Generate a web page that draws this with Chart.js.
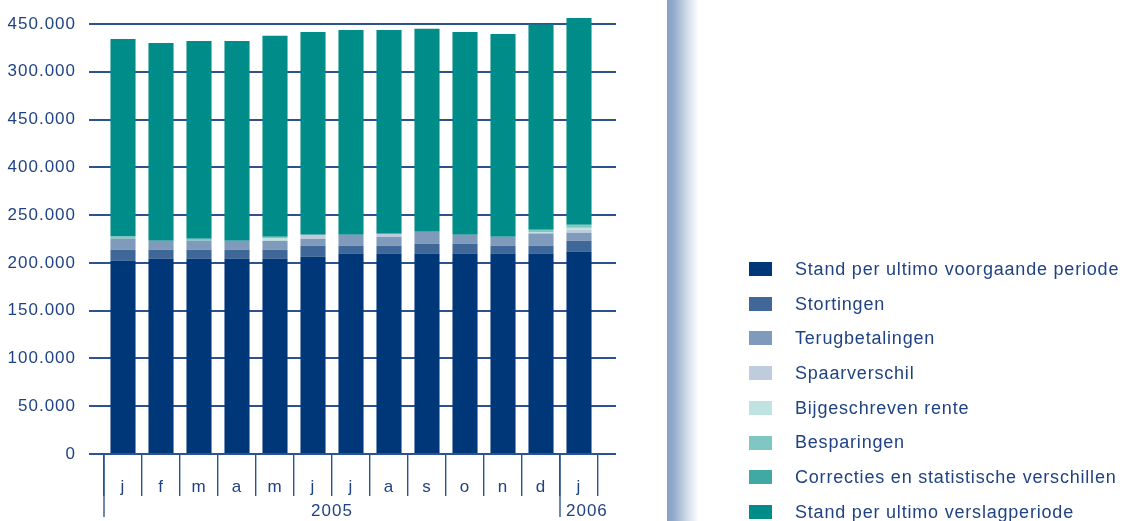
<!DOCTYPE html>
<html>
<head>
<meta charset="utf-8">
<title>Stand spaartegoeden</title>
<script src="https://cdn.jsdelivr.net/npm/chart.js@4.4.1/dist/chart.umd.min.js"></script>
<style>
  html, body { margin: 0; padding: 0; background: #fff; }
  #wrap { position: relative; width: 1125px; height: 521px; overflow: hidden; }
  #band {
    position: absolute; left: 667px; top: 0; width: 32px; height: 521px;
    background: linear-gradient(to right, #87a1c5 0%, #94accc 22%, #d4deeb 65%, #ffffff 100%);
  }
  #chart { position: absolute; left: 0; top: 0; }
</style>
</head>
<body>
<div id="wrap">
  <div id="band"></div>
  <canvas id="chart" width="1125" height="521"></canvas>
</div>
<script>
// Months and years along the bottom
var months = ['j', 'f', 'm', 'a', 'm', 'j', 'j', 'a', 's', 'o', 'n', 'd', 'j'];
var years = ['2005', '2006'];
var yearStart = [0, 12]; // first month index of each year

// Printed labels of the value axis, bottom to top
var yTickLabels = ['0', '50.000', '100.000', '150.000', '200.000', '250.000', '400.000', '450.000', '300.000', '450.000'];

// Stacked series, bottom to top
var standVoorgaand = [202200, 204300, 204300, 204300, 204300, 206700, 209500, 209500, 209500, 209500, 209500, 209500, 211600];
var stortingen = [11500, 9400, 9400, 9400, 9400, 11200, 8400, 8400, 10500, 10500, 8400, 8400, 11500];
var terugbetalingen = [11500, 9400, 9400, 9400, 9400, 7300, 11500, 9400, 12600, 9400, 9400, 12900, 8400];
var spaarverschil = [0, 0, 0, 0, 0, 4200, 0, 3100, 0, 0, 0, 0, 3100];
var bijgeschrevenRente = [0, 0, 0, 0, 2400, 0, 0, 0, 0, 0, 0, 1000, 2100];
var besparingen = [2400, 0, 2100, 0, 1800, 0, 0, 0, 0, 0, 0, 2800, 3100];
var correcties = [0, 0, 0, 0, 0, 0, 0, 0, 0, 0, 0, 0, 0];
var standVerslag = [206800, 207100, 207100, 209200, 210300, 212300, 214400, 213400, 212300, 212300, 212300, 215000, 216500];

var textColor = '#1f4282';
var lineColor = '#2b5391';
var fontFamily = '"Liberation Sans", Arial, sans-serif';

var series = [
    { label: 'Stand per ultimo voorgaande periode', data: standVoorgaand, color: '#003778' },
    { label: 'Stortingen', data: stortingen, color: '#3f6898' },
    { label: 'Terugbetalingen', data: terugbetalingen, color: '#7f9abb' },
    { label: 'Spaarverschil', data: spaarverschil, color: '#bfccdd' },
    { label: 'Bijgeschreven rente', data: bijgeschrevenRente, color: '#bfe3e1' },
    { label: 'Besparingen', data: besparingen, color: '#80c6c2' },
    { label: 'Correcties en statistische verschillen', data: correcties, color: '#40a9a4' },
    { label: 'Stand per ultimo verslagperiode', data: standVerslag, color: '#008c88' }
];

var datasets = series.map(function(s) {
    return {
        label: s.label,
        data: s.data,
        backgroundColor: s.color,
        borderWidth: 0,
        barPercentage: 0.66,
        categoryPercentage: 1,
        clip: false
    };
});

// Wider tracking for all text drawn by the chart
var spacingPlugin = {
    id: 'spacing',
    beforeDraw: function(chart) {
        chart.ctx.letterSpacing = '1px';
    }
};

// Year labels under the months, with the longer separators
var yearPlugin = {
    id: 'years',
    afterDraw: function(chart) {
        var ctx = chart.ctx;
        var x = chart.scales.x;
        var area = chart.chartArea;
        var step = x.width / months.length;
        ctx.save();
        ctx.strokeStyle = lineColor;
        ctx.lineWidth = 1.4;
        ctx.font = '17px ' + fontFamily;
        ctx.letterSpacing = '1px';
        ctx.fillStyle = textColor;
        ctx.textBaseline = 'middle';
        ctx.textAlign = 'left';
        for (var i = 0; i < years.length; i++) {
            var first = yearStart[i];
            var last = i + 1 < years.length ? yearStart[i + 1] - 1 : months.length - 1;
            var left = x.getPixelForValue(first) - step / 2;
            var right = x.getPixelForValue(last) + step / 2;
            ctx.beginPath();
            ctx.moveTo(left, area.bottom);
            ctx.lineTo(left, 517);
            ctx.stroke();
            var w = ctx.measureText(years[i]).width;
            var tx = Math.max((left + right) / 2 - w / 2, left + 6);
            ctx.fillText(years[i], tx, 511);
        }
        ctx.restore();
    }
};

// Legend at the right side of the page
var legendPlugin = {
    id: 'sideLegend',
    afterDraw: function(chart) {
        var ctx = chart.ctx;
        ctx.save();
        ctx.font = '18px ' + fontFamily;
        ctx.letterSpacing = '0.8px';
        ctx.textBaseline = 'middle';
        ctx.textAlign = 'left';
        chart.data.datasets.forEach(function(ds, i) {
            var y = 269 + i * 34.7;
            ctx.fillStyle = ds.backgroundColor;
            ctx.fillRect(749, Math.round(y - 7), 23, 14);
            ctx.fillStyle = textColor;
            ctx.fillText(ds.label, 795, y + 1);
        });
        ctx.restore();
    }
};

var ctx = document.getElementById('chart').getContext('2d');
window.savingsChart = new Chart(ctx, {
    type: 'bar',
    data: {
        labels: months,
        datasets: datasets
    },
    options: {
        responsive: false,
        animation: false,
        layout: { padding: { top: 24, right: 509, left: 0, bottom: 0 } },
        plugins: {
            legend: { display: false },
            tooltip: { enabled: false }
        },
        scales: {
            x: {
                stacked: true,
                offset: true,
                grid: {
                    offset: true,
                    drawOnChartArea: false,
                    drawTicks: true,
                    tickLength: 42,
                    color: lineColor,
                    lineWidth: 1.4
                },
                border: { display: false },
                ticks: {
                    color: textColor,
                    font: { size: 17, family: fontFamily },
                    padding: -19,
                    autoSkip: false,
                    maxRotation: 0
                },
                afterFit: function(scale) { scale.height = 67; }
            },
            y: {
                stacked: true,
                min: 0,
                max: 450000,
                ticks: {
                    stepSize: 50000,
                    padding: 13,
                    color: textColor,
                    font: { size: 17, family: fontFamily },
                    callback: function(value, index) { return yTickLabels[index]; }
                },
                grid: { color: lineColor, lineWidth: 2, tickLength: 15 },
                border: { display: false },
                afterFit: function(scale) { scale.width = 104; }
            },
            y2: {
                position: 'right',
                min: 0,
                max: 450000,
                ticks: { stepSize: 50000, display: false },
                grid: { color: lineColor, lineWidth: 2, tickLength: 18, drawOnChartArea: false },
                border: { display: false },
                afterFit: function(scale) { scale.width = 18; }
            }
        }
    },
    plugins: [spacingPlugin, yearPlugin, legendPlugin]
});
</script>
</body>
</html>
